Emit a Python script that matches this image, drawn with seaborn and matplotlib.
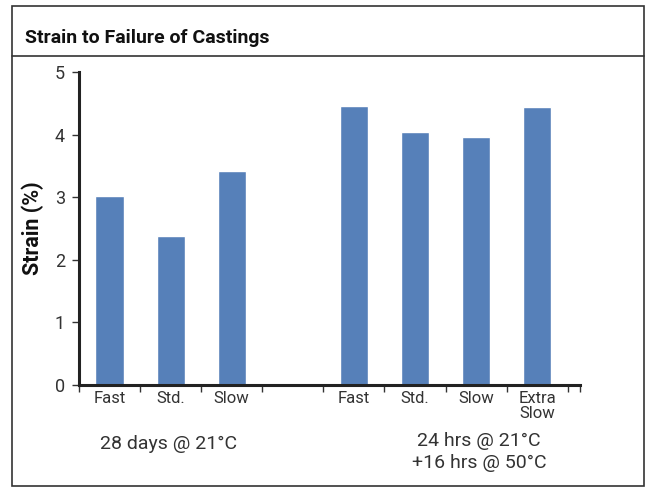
import pandas as pd
import matplotlib.pyplot as plt
import matplotlib.transforms as mtransforms
from matplotlib.patches import Rectangle
from matplotlib.lines import Line2D
import seaborn as sns

# data
title = "Strain to Failure of Castings"
y_label = "Strain (%)"
group_labels = ["28 days @ 21°C", "24 hrs @ 21°C\n+16 hrs @ 50°C"]
rates_28d = ["Fast", "Std.", "Slow"]
strain_28d = [3.02, 2.38, 3.42]
rates_heat = ["Fast", "Std.", "Slow", "Extra\nSlow"]
strain_heat = [4.46, 4.04, 3.96, 4.44]
y_ticks = [0, 1, 2, 3, 4, 5]

# one empty slot between the two groups
slots = list(range(len(rates_28d))) + [len(rates_28d) + 1 + i for i in range(len(rates_heat))]
df = pd.DataFrame({
    "slot": slots,
    "strain": strain_28d + strain_heat,
    "rate": rates_28d + rates_heat,
})
n_slots = len(rates_28d) + 1 + len(rates_heat)
tick_labels = rates_28d + [""] + rates_heat

sns.set_theme(style="white")
plt.rcParams['font.family'] = ['Roboto', 'DejaVu Sans']

fig = plt.figure(figsize=(6.51, 4.88), dpi=100)
ax = fig.add_axes([79 / 651, 1 - 385 / 488, (580 - 79) / 651, (385 - 72) / 488])

sns.barplot(data=df, x="slot", y="strain", native_scale=True, width=0.46,
            color="#5680b9", saturation=1, ax=ax)

ax.set_xlim(-0.5, n_slots - 0.3)
ax.set_ylim(0, 5)
ax.set_yticks(y_ticks)
ax.set_yticklabels([str(t) for t in y_ticks], fontsize=13, color="#333333")
ax.set_xticks(range(n_slots))
ax.set_xticklabels(tick_labels, fontsize=12, color="#333333", linespacing=1.05)
ax.set_xticks([i - 0.5 for i in range(n_slots + 1)] + [n_slots - 0.3], minor=True)
ax.tick_params(axis="x", which="major", length=0, pad=4)
ax.tick_params(axis="x", which="minor", length=5, width=1, color="#333333", direction="out", bottom=True)
ax.tick_params(axis="y", length=5, width=1, color="#333333", direction="out", left=True, pad=5)
ax.set_xlabel("")
ax.set_ylabel(y_label, fontsize=15.5, fontweight="bold", color="#111111", labelpad=8)

for side in ["top", "right"]:
    ax.spines[side].set_visible(False)
for side in ["left", "bottom"]:
    ax.spines[side].set_linewidth(2.2)
    ax.spines[side].set_color("#222222")

# group captions under the axis
trans = mtransforms.blended_transform_factory(ax.transData, fig.transFigure)
ax.text(0.96, 1 - 444 / 488, group_labels[0], transform=trans, ha="center", va="center",
        fontsize=14, color="#333333")
ax.text(6.05, 1 - 452 / 488, group_labels[1], transform=trans, ha="center", va="center",
        fontsize=14, color="#333333", linespacing=1.25)

# frame and header band
fig.patches.append(Rectangle((12 / 651, 1 - 486 / 488), (644 - 12) / 651, (486 - 6) / 488,
                             transform=fig.transFigure, fill=False, edgecolor="#333333", linewidth=1.2))
fig.lines.append(Line2D([12 / 651, 644 / 651], [1 - 56 / 488, 1 - 56 / 488],
                        transform=fig.transFigure, color="#333333", linewidth=1.2))
fig.text(25 / 651, 1 - 38 / 488, title, ha="left", va="center", fontsize=14,
         fontweight="bold", color="#111111")

fig.savefig("out.png", dpi=100)
